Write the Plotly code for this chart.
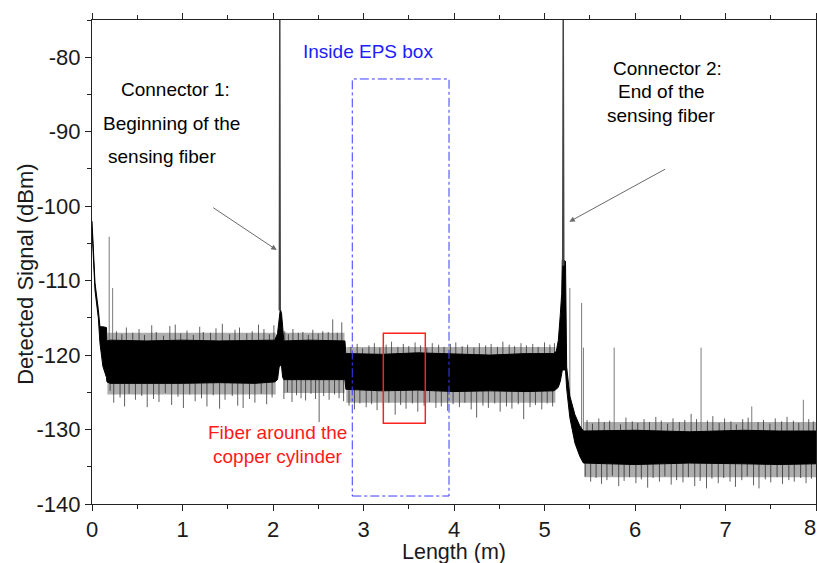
import numpy as np
import plotly.graph_objects as go

# ---- backscatter trace: envelope of the dense noise band (m, dBm) ----
band_x = [0.0, 0.033, 0.07, 0.088, 0.12, 0.16, 0.165, 0.20, 0.60, 1.00, 1.40, 1.80,
          2.02, 2.05, 2.068, 2.081, 2.095, 2.107, 2.12, 2.40, 2.795, 2.805,
          3.20, 3.60, 4.00, 4.40, 4.80, 5.10, 5.13, 5.153, 5.175, 5.19, 5.197,
          5.232, 5.245, 5.28, 5.336, 5.39, 5.43, 5.46, 6.00, 6.60, 7.20, 7.60, 8.0]
band_hi = [-102.0, -110.3, -113.9, -116.2, -116.2, -116.3, -118.1, -118.0, -118.1, -118.0, -118.1, -118.0,
           -118.0, -117.1, -114.5, -113.8, -114.5, -116.2, -118.1, -118.0, -118.1, -119.8,
           -119.9, -119.7, -119.9, -120.0, -119.8, -119.8, -119.5, -118.0, -114.5, -111.7, -107.2,
           -107.4, -121.6, -125.5, -128.0, -129.5, -130.2, -130.2, -130.1, -130.3, -130.1, -130.2, -130.2]
band_lo = [-103.0, -111.3, -115.0, -118.4, -121.5, -123.0, -123.6, -123.8, -123.8, -123.8, -123.7, -123.8,
           -123.6, -123.3, -121.6, -121.3, -121.6, -123.0, -123.3, -123.3, -123.3, -124.6,
           -124.8, -124.7, -124.9, -124.8, -124.9, -124.8, -124.6, -124.3, -123.5, -122.5, -122.0,
           -122.0, -124.5, -128.4, -131.8, -133.6, -134.5, -134.6, -134.7, -134.5, -134.6, -134.7, -134.6]

# Fresnel reflections at the two connectors
peak1_x = [2.070, 2.075, 2.080]
peak1_y = [-114.0, -75.0, -114.0]
peak2_x = [5.201, 5.207, 5.213]
peak2_y = [-108.0, -75.0, -108.0]

# outer scatter of the noise floor, per fiber section
fringe_x0 = [0.17, 2.12, 2.81, 5.44]
fringe_x1 = [2.03, 2.79, 5.12, 8.00]
fringe_hi = [-117.0, -117.0, -118.9, -129.0]
fringe_lo = [-125.3, -125.1, -126.4, -136.4]

# isolated noise samples above the band
up_x = [0.27, 0.33, 0.38, 0.45, 0.52, 0.58, 0.66, 0.71, 0.79, 0.86, 0.92, 0.98, 1.05, 1.12,
        1.19, 1.23, 1.31, 1.37, 1.44, 1.52, 1.58, 1.63, 1.71, 1.77, 1.84, 1.90, 1.96, 2.01,
        2.13, 2.17, 2.22, 2.28, 2.33, 2.39, 2.44, 2.50, 2.55, 2.61, 2.66, 2.71, 2.76,
        2.86, 2.93, 2.99, 3.06, 3.12, 3.18, 3.25, 3.31, 3.38, 3.44, 3.50, 3.57, 3.63, 3.70,
        3.76, 3.83, 3.89, 3.96, 4.02, 4.09, 4.15, 4.22, 4.28, 4.35, 4.41, 4.48, 4.54, 4.61,
        4.67, 4.74, 4.80, 4.87, 4.93, 5.00, 5.06, 5.11,
        5.47, 5.53, 5.60, 5.66, 5.72, 5.84, 5.90, 5.97, 6.03, 6.10, 6.16, 6.23, 6.29, 6.36,
        6.42, 6.49, 6.55, 6.62, 6.68, 6.80, 6.86, 6.93, 6.99, 7.06, 7.12, 7.19, 7.25, 7.36,
        7.42, 7.49, 7.55, 7.62, 7.68, 7.75, 7.81, 7.92, 7.97]
up_y = [-116.8, -117.2, -116.3, -117.0, -116.5, -117.3, -116.0, -116.9, -117.4, -116.1, -115.9, -117.1, -116.7, -117.3,
        -116.2, -116.9, -117.0, -116.4, -115.8, -117.2, -116.6, -116.3, -117.1, -116.8, -115.9, -116.5, -117.2, -116.0,
        -116.8, -117.2, -116.5, -117.0, -116.9, -117.3, -116.6, -117.1, -116.8, -116.9, -115.2, -117.0, -115.6,
        -118.9, -118.5, -119.1, -118.7, -118.4, -119.0, -118.6, -118.2, -118.9, -118.5, -118.8, -118.3, -118.7, -119.0,
        -118.4, -118.6, -118.9, -118.5, -118.3, -118.8, -118.6, -119.0, -118.4, -118.7, -118.5, -118.9, -118.2, -118.6,
        -118.8, -118.4, -118.7, -118.5, -118.9, -118.3, -118.6, -118.4,
        -128.7, -129.2, -128.5, -129.0, -128.8, -129.3, -128.4, -128.9, -129.1, -128.6, -129.0, -128.3, -128.8, -129.2,
        -128.5, -129.0, -128.7, -127.9, -128.6, -128.8, -128.2, -129.1, -128.5, -128.9, -129.3, -128.6, -128.4, -129.0,
        -128.7, -129.2, -128.5, -128.9, -128.3, -128.8, -129.1, -128.6, -128.9]

# isolated noise samples below the band
dn_x = [0.20, 0.24, 0.31, 0.36, 0.41, 0.48, 0.55, 0.61, 0.68, 0.74, 0.81, 0.88, 0.95, 1.01, 1.08,
        1.14, 1.21, 1.27, 1.34, 1.41, 1.47, 1.55, 1.61, 1.67, 1.74, 1.80, 1.87, 1.93, 1.99,
        2.12, 2.16, 2.21, 2.26, 2.31, 2.36, 2.42, 2.47, 2.51, 2.56, 2.62, 2.68, 2.73, 2.78,
        2.84, 2.90, 2.96, 3.03, 3.09, 3.15, 3.22, 3.28, 3.35, 3.41, 3.47, 3.54, 3.60, 3.67,
        3.73, 3.80, 3.86, 3.93, 3.99, 4.06, 4.12, 4.19, 4.25, 4.32, 4.38, 4.45, 4.51, 4.58,
        4.64, 4.71, 4.77, 4.84, 4.90, 4.97, 5.03, 5.09,
        5.45, 5.51, 5.57, 5.63, 5.69, 5.75, 5.82, 5.88, 5.94, 6.01, 6.07, 6.14, 6.20, 6.27,
        6.33, 6.40, 6.46, 6.53, 6.59, 6.66, 6.72, 6.79, 6.85, 6.92, 6.98, 7.05, 7.11, 7.18,
        7.24, 7.31, 7.37, 7.44, 7.50, 7.57, 7.63, 7.70, 7.76, 7.83, 7.89, 7.95]
dn_y = [-124.8, -126.4, -125.7, -126.9, -125.2, -126.0, -125.5, -127.0, -125.9, -126.3, -125.1, -126.7, -125.6, -127.1, -125.3,
        -126.2, -125.8, -126.9, -125.4, -127.2, -126.0, -125.5, -126.8, -127.1, -125.9, -126.4, -125.2, -126.6, -125.7,
        -125.9, -125.0, -126.3, -125.4, -125.8, -126.1, -125.2, -125.9, -129.0, -125.5, -126.0, -125.3, -125.8, -126.2,
        -126.8, -127.3, -126.5, -127.0, -126.6, -127.4, -126.9, -126.4, -128.0, -126.7, -127.2, -126.5, -127.6, -126.8,
        -126.3, -127.1, -126.9, -127.5, -126.6, -127.0, -126.4, -127.3, -128.4, -126.8, -127.1, -126.5, -127.6, -126.9,
        -127.2, -126.6, -128.6, -127.0, -126.7, -127.3, -126.5, -126.9,
        -136.3, -137.0, -136.5, -137.3, -136.8, -136.2, -137.6, -136.9, -136.4, -137.2, -136.7, -137.8, -136.5, -137.0,
        -136.3, -137.4, -136.8, -137.1, -136.4, -137.6, -136.9, -137.9, -136.6, -137.2, -136.5, -137.0, -137.7, -136.8,
        -136.3, -137.5, -137.9, -136.7, -137.1, -136.4, -137.3, -136.8, -137.0, -136.5, -137.2, -136.6]

# strong isolated reflections
big_x = [0.19, 0.228, 5.28, 5.41, 5.43, 5.77, 6.73, 7.29, 7.86]
big_y = [-104.1, -111.0, -111.0, -113.0, -119.0, -119.0, -119.0, -126.9, -126.0]

x_ticks = [0, 1, 2, 3, 4, 5, 6, 7, 8]
y_ticks = [-140, -130, -120, -110, -100, -90, -80]

FONT = "Liberation Sans, Arial, sans-serif"
INK = "#1a1a1a"

band_mid = (np.array(band_hi) + np.array(band_lo)) / 2.0


def spikes(xs, tips):
    base = np.interp(xs, band_x, band_mid)
    px, py = [], []
    for x, b, t in zip(xs, base, tips):
        px += [x, x, None]
        py += [b, t, None]
    return px, py


fig = go.Figure()

# outer noise haze
hx, hy = [], []
for a, b, hi, lo in zip(fringe_x0, fringe_x1, fringe_hi, fringe_lo):
    hx += [a, b, b, a, a, None]
    hy += [hi, hi, lo, lo, hi, None]
fig.add_trace(go.Scatter(x=hx, y=hy, mode="lines", fill="toself",
                         fillcolor="rgba(0,0,0,0.32)", line=dict(width=0),
                         hoverinfo="skip", showlegend=False))

sx, sy = spikes(up_x + dn_x, up_y + dn_y)
fig.add_trace(go.Scatter(x=sx, y=sy, mode="lines",
                         line=dict(color="rgba(30,30,30,0.7)", width=1),
                         hoverinfo="skip", showlegend=False))

bx, by = spikes(big_x, big_y)
fig.add_trace(go.Scatter(x=bx, y=by, mode="lines",
                         line=dict(color="rgba(100,100,100,0.85)", width=1),
                         hoverinfo="skip", showlegend=False))

# dense noise core
fig.add_trace(go.Scatter(x=band_x + band_x[::-1], y=band_hi + band_lo[::-1],
                         mode="lines", fill="toself", fillcolor="black",
                         line=dict(color="black", width=1),
                         hoverinfo="skip", showlegend=False))

for px_, py_ in [(peak1_x, peak1_y), (peak2_x, peak2_y)]:
    fig.add_trace(go.Scatter(x=px_, y=py_, mode="lines",
                             line=dict(color="#444", width=1.5),
                             hoverinfo="skip", showlegend=False))

# marked regions
fig.add_shape(type="rect", x0=2.876, x1=3.945, y0=-138.93, y1=-82.92,
              line=dict(color="#3b3bff", width=1, dash="dashdot"), layer="above")
fig.add_shape(type="rect", x0=3.219, x1=3.683, y0=-129.16, y1=-117.07,
              line=dict(color="#ff2020", width=1.5), layer="above")

notes = [
    ("Connector 1:", 0.925, -84.40, "black"),
    ("Beginning of the", 0.881, -88.87, "black"),
    ("sensing fiber", 0.773, -93.36, "black"),
    ("Connector 2:", 6.354, -81.49, "black"),
    ("End of the", 6.295, -84.63, "black"),
    ("sensing fiber", 6.291, -87.76, "black"),
    ("Inside EPS box", 3.048, -79.26, "#2020ff"),
    ("Fiber around the", 2.053, -130.46, "#ff1a1a"),
    ("copper cylinder", 2.055, -133.65, "#ff1a1a"),
]
for text, x, y, col in notes:
    fig.add_annotation(x=x, y=y, text=text, showarrow=False,
                       font=dict(family=FONT, size=19, color=col),
                       xanchor="center", yanchor="middle")

for hx_, hy_, tx, ty in [(2.041, -105.89, 1.323, -100.07), (5.274, -102.09, 6.350, -94.92)]:
    fig.add_annotation(x=hx_, y=hy_, ax=tx, ay=ty, axref="x", ayref="y",
                       text="", showarrow=True, arrowhead=2, arrowsize=1.1,
                       arrowwidth=1, arrowcolor="#6a6a6a")

# axis titles
fig.add_annotation(x=4.0, xref="x", y=-0.1, yref="paper", text="Length (m)",
                   showarrow=False, font=dict(family=FONT, size=21.5, color=INK),
                   xanchor="center", yanchor="middle")
fig.add_annotation(x=-0.093, xref="paper", y=0.475, yref="paper", text="Detected Signal (dBm)",
                   textangle=-90, showarrow=False, font=dict(family=FONT, size=22, color=INK),
                   xanchor="center", yanchor="middle")

axis_common = dict(
    showline=True, linecolor="#222", linewidth=1.3, mirror="ticks",
    ticks="outside", ticklen=6, tickwidth=1.2, tickcolor="#222",
    showgrid=False, zeroline=False, automargin=False,
    tickfont=dict(family=FONT, size=22, color=INK),
)

fig.update_xaxes(range=[0, 8], tickvals=x_ticks, ticktext=[str(v) for v in x_ticks],
                 ticklabelstandoff=-1,
                 minor=dict(ticks="outside", ticklen=3.5, tickwidth=1.1, tickcolor="#222", dtick=0.5, tick0=0),
                 **axis_common)
fig.update_yaxes(range=[-140, -75], tickvals=y_ticks, ticktext=[str(v) for v in y_ticks],
                 minor=dict(ticks="outside", ticklen=3.5, tickwidth=1.1, tickcolor="#222", dtick=5, tick0=-140),
                 **axis_common)

# last x label sits on the figure edge; draw it explicitly, kept inside the page
last_tick = x_ticks[-1]
fig.add_annotation(x=last_tick, xref="x", y=-0.048, yref="paper", text=str(last_tick),
                   showarrow=False, font=dict(family=FONT, size=22, color=INK),
                   xanchor="right", yanchor="middle", borderpad=0, xshift=1)

fig.update_layout(width=817, height=563, margin=dict(l=92, r=1, t=20, b=59),
                  paper_bgcolor="white", plot_bgcolor="white", showlegend=False)

fig.write_html("out.html")
